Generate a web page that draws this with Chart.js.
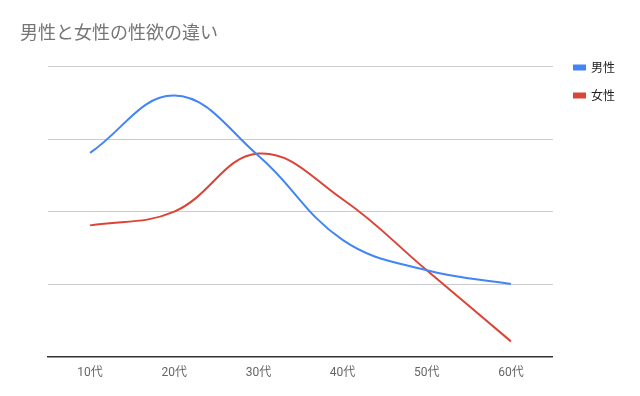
<!DOCTYPE html>
<html>
<head>
<meta charset="utf-8">
<script src="https://cdn.jsdelivr.net/npm/chart.js@4"></script>
<style>
  html, body { margin: 0; padding: 0; background: #fff; }
  #wrap { width: 640px; height: 396px; }
</style>
</head>
<body>
<div id="wrap"><canvas id="chart" width="640" height="396"></canvas></div>
<script>
// データ
const categories = ['10代', '20代', '30代', '40代', '50代', '60代'];
const maleValues = [2.81, 3.6, 2.77, 1.61, 1.19, 1.0];
const femaleValues = [1.81, 2.0, 2.8, 2.17, 1.19, 0.21];
const seriesNames = ['男性', '女性'];

const font = "'Noto Sans CJK JP', Roboto, sans-serif";

const ctx = document.getElementById('chart').getContext('2d');
new Chart(ctx, {
    type: 'line',
    data: {
        labels: categories,
        datasets: [{
            label: seriesNames[0],
            data: maleValues,
            borderColor: '#4285f4',
            backgroundColor: '#4285f4',
            borderWidth: 2,
            pointRadius: 0,
            tension: 0.4
        }, {
            label: seriesNames[1],
            data: femaleValues,
            borderColor: '#db4437',
            backgroundColor: '#db4437',
            borderWidth: 2,
            pointRadius: 0,
            tension: 0.4
        }]
    },
    options: {
        responsive: false,
        animation: false,
        layout: { padding: { left: 20, right: 15, top: 14, bottom: 15 } },
        plugins: {
            title: {
                display: true,
                text: '男性と女性の性欲の違い',
                align: 'start',
                color: '#757575',
                font: { family: font, size: 18, weight: 'normal' },
                padding: { top: 7, bottom: 24 }
            },
            legend: {
                position: 'right',
                align: 'start',
                title: {
                    display: true,
                    text: '',
                    font: { size: 12 },
                    padding: { top: 17, bottom: 0 }
                },
                labels: {
                    boxWidth: 11,
                    boxHeight: 4,
                    color: '#222',
                    font: { family: font, size: 12 },
                    padding: 16
                }
            },
            tooltip: { enabled: false }
        },
        scales: {
            x: {
                offset: true,
                grid: { display: false },
                border: { display: true, color: '#333', width: 1.5 },
                ticks: { color: '#666', font: { family: 'Roboto, ' + font, size: 12 }, padding: 1 }
            },
            y: {
                min: 0,
                max: 4,
                afterFit: function(scale) { scale.width = 28; },
                ticks: { display: false, stepSize: 1 },
                grid: { color: '#cccccc', drawTicks: false },
                border: { display: false }
            },
            yRight: {
                position: 'right',
                afterFit: function(scale) { scale.width = 5; },
                ticks: { display: false },
                grid: { display: false },
                border: { display: false }
            }
        }
    }
});
</script>
</body>
</html>
